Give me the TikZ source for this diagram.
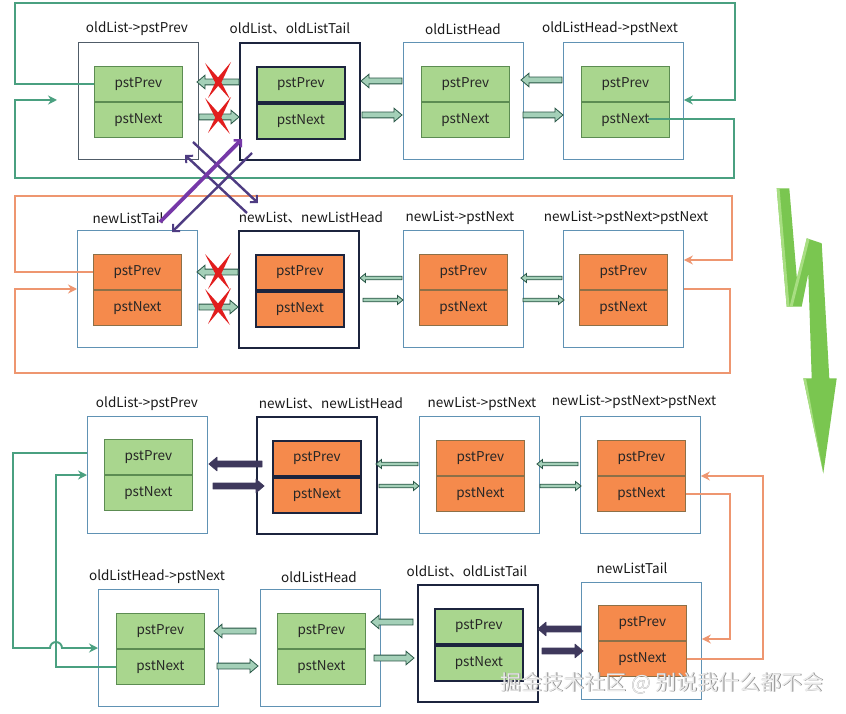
\documentclass[tikz,border=0pt]{standalone}
\usepackage{fontspec}
\setmainfont{Noto Sans CJK SC}
\usetikzlibrary{arrows.meta}
\definecolor{gline}{RGB}{74,160,128}
\definecolor{oline}{RGB}{238,150,112}
\definecolor{boxblue}{RGB}{96,146,180}
\definecolor{boxdark}{RGB}{80,92,104}
\definecolor{navy}{RGB}{28,36,62}
\definecolor{gcellf}{RGB}{169,214,142}
\definecolor{gcellb}{RGB}{92,140,82}
\definecolor{ocellf}{RGB}{245,138,76}
\definecolor{ocellb}{RGB}{140,112,72}
\definecolor{arrf}{RGB}{164,208,184}
\definecolor{arrd}{RGB}{40,86,70}
\definecolor{darkp}{RGB}{62,56,92}
\definecolor{xpurple}{RGB}{78,60,130}
\definecolor{xviolet}{RGB}{118,56,168}
\definecolor{xred}{RGB}{226,30,30}
\definecolor{boltg}{RGB}{122,198,80}
\definecolor{boltl}{RGB}{168,222,130}
\tikzset{
  obox/.style={draw=boxblue, line width=0.9pt, fill=white, inner sep=0pt},
  dbox/.style={draw=boxdark, line width=0.9pt, fill=white, inner sep=0pt},
  tbox/.style={draw=navy, line width=2pt, fill=white, inner sep=0pt},
  cellbase/.style={minimum width=88pt, minimum height=35pt, inner sep=0pt, font=\fontsize{13.5}{13.5}\selectfont, text=black!85},
  gcell/.style={cellbase, draw=gcellb, line width=0.8pt, fill=gcellf},
  ocell/.style={cellbase, draw=ocellb, line width=0.8pt, fill=ocellf},
  gtcell/.style={cellbase, draw=navy, line width=1.8pt, fill=gcellf},
  otcell/.style={cellbase, draw=navy, line width=1.8pt, fill=ocellf},
  lbl/.style={font=\fontsize{13.5}{13.5}\selectfont, text=black!90, inner sep=0pt},
  blk/.style={fill=arrf, draw=arrd, line width=0.8pt},
  darkarr/.style={fill=darkp, draw=darkp, line width=0.8pt, line join=round},
  gl/.style={draw=gline, line width=1.9pt},
  ol/.style={draw=oline, line width=1.9pt},
  tipg/.style={-{Stealth[length=9pt,width=9pt]}},
  xl/.style={draw=xpurple, line width=2.4pt, -{Straight Barb[length=5pt,width=10pt,line width=2pt]}},
  xv/.style={draw=xviolet, line width=3.8pt, -{Straight Barb[length=5pt,width=10pt,line width=2.5pt]}},
}
\newcommand\listnode[7]{%
  \node[#7, anchor=north west, minimum width=120pt, minimum height=117pt] (#1) at (#2,#3) {};
  \node[#6, anchor=north west] (#1p) at (#4,#5) {pstPrev};
  \node[#6, anchor=north] (#1n) at (#1p.south) {pstNext};
}
\newcommand\barr[7][blk]{%
  \pgfmathsetmacro\bL{ifthenelse(#3>#2,#7,-#7)}%
  \draw[#1] (#2,{#4-#5}) -- ({#3-(\bL)},{#4-#5}) -- ({#3-(\bL)},{#4-#6}) -- (#3,#4)
     -- ({#3-(\bL)},{#4+#6}) -- ({#3-(\bL)},{#4+#5}) -- (#2,{#4+#5}) -- cycle;}
\newcommand\barrbig[4][blk]{\barr[#1]{#2}{#3}{#4}{2.9}{6.8}{8}}
\newcommand\barrsmall[3]{\barr{#1}{#2}{#3}{1.8}{4.5}{5.5}}
\newcommand\taper[5]{%
  \pgfmathsetmacro\tdx{#3-(#1)}\pgfmathsetmacro\tdy{#4-(#2)}%
  \pgfmathsetmacro\tl{veclen(\tdx,\tdy)}%
  \pgfmathsetmacro\tpx{-(\tdy)/\tl*#5}\pgfmathsetmacro\tpy{(\tdx)/\tl*#5}%
  \fill[xred] (#1,#2) -- ({(#1+#3)/2+(\tpx)},{(#2+#4)/2+(\tpy)}) -- (#3,#4)
     -- ({(#1+#3)/2-(\tpx)},{(#2+#4)/2-(\tpy)}) -- cycle;}
\newcommand\redx[2]{%
  \taper{#1-13}{#2-18}{#1+12}{#2+18}{2.8}%
  \taper{#1+13}{#2-19}{#1-10}{#2+17}{2.8}}
\begin{document}
\begin{tikzpicture}[x=1pt,y=-1pt]
\useasboundingbox (0,0) rectangle (846,714);
\fill[white] (0,0) rectangle (846,714);

% ---------------- top loops (green) ----------------
\listnode{a1}{78}{42}{94}{66}{gcell}{dbox}
\listnode{a2}{239}{42}{256}{66}{gtcell}{tbox}
\listnode{a3}{403}{42}{421}{66}{gcell}{obox}
\listnode{a4}{563}{42}{581}{66}{gcell}{obox}
\node[lbl] (a1l) at (137,29) {oldList->pstPrev};
\node[lbl] (a2l) at (290,29) {oldList、oldListTail};
\node[lbl] (a3l) at (463,29) {oldListHead};
\node[lbl] (a4l) at (610,29) {oldListHead->pstNext};
\coordinate (ga1) at (57,100);
\draw[gl,tipg] (a1p.west) -| (15,3) -| (735,100) -- (a4.east |- 735,100);
\draw[gl,tipg] ([xshift=23pt,yshift=1pt]a4n.center) -| (734,178) -| (15,100) -- (ga1);

\barrbig{239}{197}{82}
\barrbig{199}{239}{117}
\barrbig{402}{361}{81}
\barrbig{362}{402}{115}
\barrbig{562}{521}{80}
\barrbig{523}{563}{115}
\redx{218}{81}
\redx{218}{116}

% ---------------- middle loops (orange) ----------------
\listnode{b1}{77}{230}{93}{254}{ocell}{obox}
\listnode{b2}{238}{230}{255}{254}{otcell}{tbox}
\listnode{b3}{403}{230}{419}{254}{ocell}{obox}
\listnode{b4}{563}{230}{579}{254}{ocell}{obox}
\node[lbl] (b1l) at (128,218) {newListTail};
\node[lbl] (b2l) at (311,218) {newList、newListHead};
\node[lbl] (b3l) at (460,218) {newList->pstNext};
\node[lbl] (b4l) at (626,218) {newList->pstNext>pstNext};
\draw[ol,tipg] (b1p.west) -| (15,196) -| (732,260) -- (b4.east |- 732,260);
\draw[ol,tipg] (b4.east |- 0,289) -| (730,373) -| (15,289) -- (b1.west |- 15,289);

\barrbig{238}{197}{272}
\barrbig{199}{238}{307}
\barrsmall{402}{360}{278}
\barrsmall{363}{403}{300}
\barrsmall{562}{521}{278}
\barrsmall{523}{564}{300}
\redx{218}{272}
\redx{218}{307}

% crossing pointers
\coordinate (x1s) at (193,142); \coordinate (x1e) at (258,203);
\coordinate (x2s) at (247,213); \coordinate (x2e) at (185,155);
\coordinate (x3s) at (160,222); \coordinate (x3e) at (242,139);
\coordinate (x4s) at (252,153); \coordinate (x4e) at (172,232);
\draw[xl] (x1s) -- (x1e);
\draw[xl] (x2s) -- (x2e);
\draw[xv] (x3s) -- (x3e);
\draw[xl] (x4s) -- (x4e);

% ---------------- bottom: row 3 ----------------
\listnode{c1}{87}{416}{104}{439}{gcell}{obox}
\listnode{c2}{256}{416}{272}{440}{otcell}{tbox}
\listnode{c3}{419}{416}{436}{440}{ocell}{obox}
\listnode{c4}{580}{416}{597}{440}{ocell}{obox}
\node[lbl] (c1l) at (147,404) {oldList->pstPrev};
\node[lbl] (c2l) at (331,404) {newList、newListHead};
\node[lbl] (c3l) at (482,404) {newList->pstNext};
\node[lbl] (c4l) at (634,402) {newList->pstNext>pstNext};

\barrbig[darkarr]{262}{209}{464}
\barrbig[darkarr]{213}{264}{486}
\barrsmall{418}{376}{464}
\barrsmall{379}{419}{486}
\barrsmall{578}{537}{464}
\barrsmall{540}{581}{486}

% ---------------- bottom: row 4 ----------------
\listnode{d1}{98}{589}{116}{613}{gcell}{obox}
\listnode{d2}{260}{589}{277}{613}{gcell}{obox}
\listnode{d3}{417}{584}{434}{608}{gtcell}{tbox}
\listnode{d4}{581}{582}{598}{605}{ocell}{obox}
\node[lbl] (d1l) at (157,577) {oldListHead->pstNext};
\node[lbl] (d2l) at (319,577) {oldListHead};
\node[lbl] (d3l) at (467,572) {oldList、oldListTail};
\node[lbl] (d4l) at (632,568) {newListTail};

\barrbig{256}{214}{631}
\barrbig{217}{258}{666}
\barrbig{413}{371}{622}
\barrbig{374}{414}{658}
\barrbig[darkarr]{581}{538}{629}
\barrbig[darkarr]{542}{583}{651}

% bottom green loops
\draw[gl,tipg] (d1n.west) -| (56,475) -- (c1.west |- 56,475);
\draw[gl,tipg] (c1.west |- 0,453) -| (13,648) -- (50,648)
   arc[start angle=180, end angle=360, radius=6] -- (d1.west |- 62,648);
% bottom orange loops
\draw[ol,tipg] (c4n.east) -| (730,639) -- (d4.east |- 730,639);
\draw[ol,tipg] (d4n.east) -| (763,476) -- (c4.east |- 763,476);

% ---------------- lightning arrow ----------------
\fill[boltg] (776.7,188.3) -- (789.3,188.3) -- (797.3,283.3) -- (806.7,238.3) -- (821.7,243.3)
  -- (829.3,378.3) -- (836.7,378.3) -- (823.3,473.3) -- (803.3,378.3) -- (811.7,378.3)
  -- (808.3,273.3) -- (801.7,306.7) -- (786.7,306.7) -- cycle;
\fill[boltl] (776.7,188.3) -- (779.5,188.3) -- (789.5,306.7) -- (786.7,306.7) -- cycle;
\fill[boltl] (789.5,306.7) -- (806.7,238.3) -- (809.5,239.5) -- (792.5,306.7) -- cycle;
\fill[boltl] (803.3,378.3) -- (806,378.3) -- (823.3,473.3) -- cycle;

% watermark
\node[font=\fontsize{21}{21}\selectfont, text=black!45] (wm0) at (662.8,683.8) {掘金技术社区 @ 别说我什么都不会};
\node[font=\fontsize{21}{21}\selectfont, text=white!92!black] (wm) at (662,683) {掘金技术社区 @ 别说我什么都不会};
\end{tikzpicture}
\end{document}
